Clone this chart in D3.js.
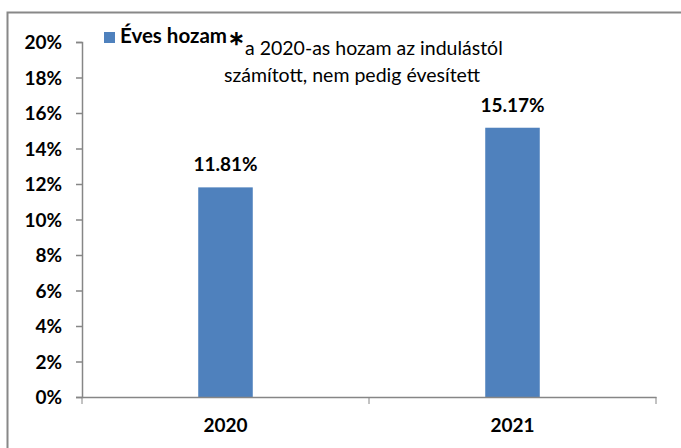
<!DOCTYPE html>
<html>
<head>
<meta charset="utf-8">
<script src="https://cdn.jsdelivr.net/npm/d3@7"></script>
<style>
  body { margin: 0; background: #fff; }
  text { font-family: Lato, "Open Sans", sans-serif; fill: #000; }
</style>
</head>
<body>
<div id="chart"></div>
<script>
  // Data
    const years = ["2020", "2021"]
    const returns = [11.81, 15.17]
    const yTicks = [0, 2, 4, 6, 8, 10, 12, 14, 16, 18, 20]
    const seriesName = "Éves hozam"
    const noteLines = ["a 2020-as hozam az indulástól", "számított, nem pedig évesített"]

  // Dimensions
    let dimensions = {
        width: 681,
        height: 448,
        margin: { top: 42, right: 25, bottom: 51, left: 82 },
    }
    dimensions.boundedWidth = dimensions.width - dimensions.margin.left - dimensions.margin.right
    dimensions.boundedHeight = dimensions.height - dimensions.margin.top - dimensions.margin.bottom

    const svg = d3.select("#chart")
        .append("svg")
            .attr("width", dimensions.width)
            .attr("height", dimensions.height)

    // outer chart border
    svg.append("rect")
        .attr("x", 7.5)
        .attr("y", 12.5)
        .attr("width", 700)
        .attr("height", 460)
        .attr("fill", "none")
        .attr("stroke", "#888")
        .attr("stroke-width", 2)

    const bounds = svg.append("g")
        .attr("transform", `translate(${dimensions.margin.left},${dimensions.margin.top})`)

  // Scales
    const xScale = d3.scaleBand()
        .domain(years)
        .range([0, dimensions.boundedWidth])
    const yScale = d3.scaleLinear()
        .domain([0, 20])
        .range([dimensions.boundedHeight, 0])

    const barWidth = xScale.bandwidth() * 0.19

  // Bars
    bounds.selectAll(".bar")
        .data(returns)
        .enter()
        .append("rect")
            .attr("class", "bar")
            .attr("x", (d, i) => xScale(years[i]) + xScale.bandwidth() / 2 - barWidth / 2)
            .attr("y", d => yScale(d))
            .attr("width", barWidth)
            .attr("height", d => dimensions.boundedHeight - yScale(d))
            .attr("fill", "#4F81BD")

    bounds.selectAll(".value")
        .data(returns)
        .enter()
        .append("text")
            .attr("x", (d, i) => xScale(years[i]) + xScale.bandwidth() / 2)
            .attr("y", d => yScale(d) - 16)
            .attr("text-anchor", "middle")
            .style("font-size", "19px")
            .style("font-weight", "bold")
            .text(d => d.toFixed(2) + "%")

  // Axes
    const yAxis = bounds.append("g")
        .call(d3.axisLeft(yScale)
            .tickValues(yTicks)
            .tickSize(6)
            .tickPadding(14)
            .tickFormat(d => d + "%"))
    yAxis.selectAll("text")
        .style("font-size", "19px")
        .style("font-weight", "bold")
        .attr("dy", "0.35em")

    const xAxis = bounds.append("g")
        .attr("transform", `translate(0,${dimensions.boundedHeight})`)
        .call(d3.axisBottom(xScale).tickSize(0).tickPadding(22))
    xAxis.selectAll("text")
        .style("font-size", "19px")
        .style("font-weight", "bold")
    // category boundary ticks
    xAxis.selectAll(".sep")
        .data([0, ...years.map(y => xScale(y) + xScale.bandwidth())])
        .enter()
        .append("line")
            .attr("x1", d => d)
            .attr("x2", d => d)
            .attr("y1", 0)
            .attr("y2", 7)
            .attr("stroke", "#868686")
    bounds.selectAll(".domain, .tick line")
        .attr("stroke", "#868686")
        .attr("stroke-width", 1.5)

  // Legend
    const legend = svg.append("g")
    legend.append("rect")
        .attr("x", 104)
        .attr("y", 32)
        .attr("width", 11)
        .attr("height", 11)
        .attr("fill", "#4F81BD")
    legend.append("text")
        .attr("x", 120)
        .attr("y", 43)
        .style("font-size", "20.5px")
        .style("font-weight", "bold")
        .text(seriesName)
    legend.append("text")
        .attr("x", 228)
        .attr("y", 45)
        .style("font-size", "20px")
        .style("font-weight", "bold")
        .text("∗")

  // Note
    svg.selectAll(".note")
        .data(noteLines)
        .enter()
        .append("text")
            .attr("class", "note")
            .attr("x", (d, i) => i === 0 ? 245 : 224)
            .attr("y", (d, i) => 55 + i * 27)
            .style("font-size", "19.5px")
            .text(d => d)
</script>
</body>
</html>
